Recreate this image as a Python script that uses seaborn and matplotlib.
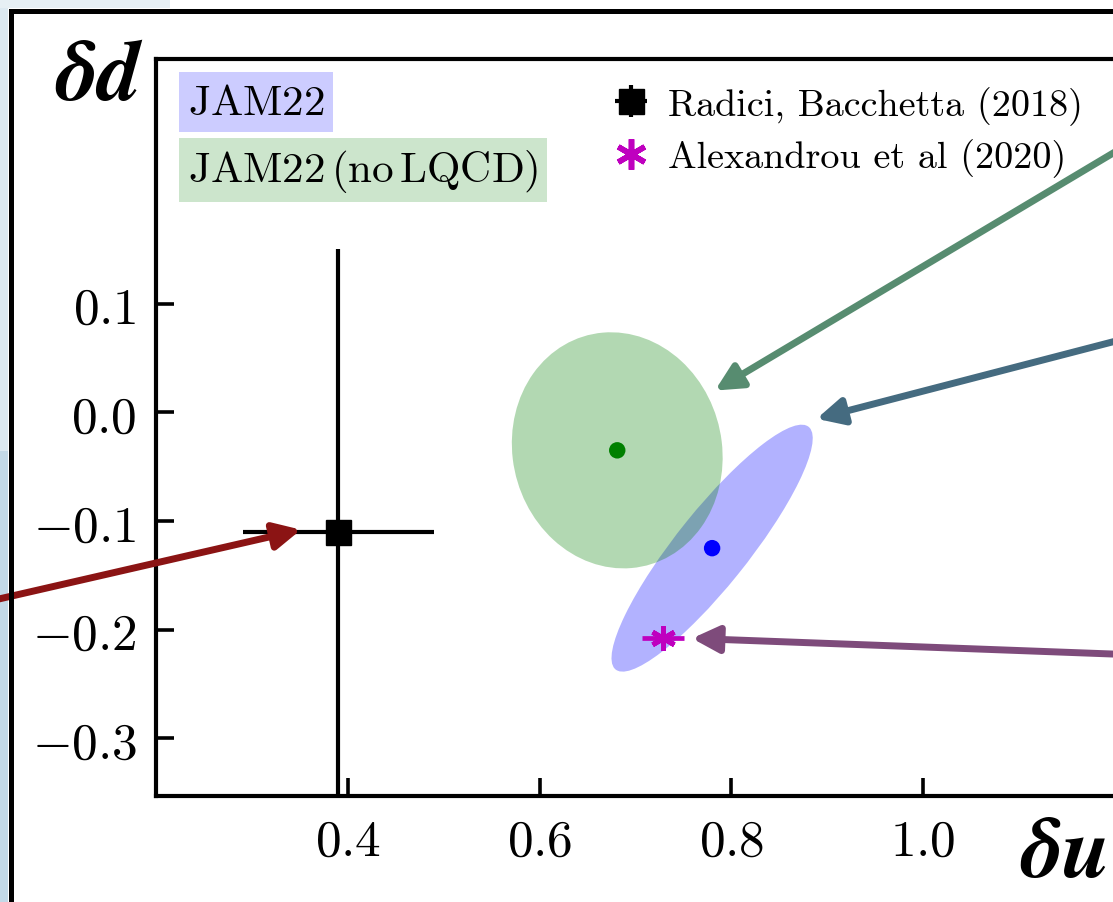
import numpy as np
import matplotlib
matplotlib.use('Agg')
import matplotlib.pyplot as plt
import seaborn as sns
from matplotlib.patches import Ellipse, Rectangle
from matplotlib.lines import Line2D
from matplotlib.legend_handler import HandlerErrorbar

# ---------------- data ----------------
jam_names = ['JAM22', 'JAM22 (no LQCD)']
jam_box_text = [r'$\mathrm{JAM22}$', r'$\mathrm{JAM22\,(no\,LQCD)}$']
jam_du = [0.780, 0.681]
jam_dd = [-0.125, -0.035]
jam_sig_du = [0.105, 0.110]
jam_sig_dd = [0.1136, 0.1086]
jam_rho = [0.89, -0.06]
jam_colors = ['b', 'g']

radici_label = 'Radici, Bacchetta (2018)'
radici_du, radici_dd = 0.390, -0.110
radici_du_err, radici_dd_err = 0.10, 0.26

alex_label = 'Alexandrou et al (2020)'
alex_du, alex_dd = 0.729, -0.2075
alex_du_err = 0.022

arrow_tip_du = [0.351, 0.783, 0.889, 0.759]
arrow_tip_dd = [-0.108, 0.020, -0.006, -0.208]
arrow_tail_du = [-0.005, 1.247, 1.247, 1.247]
arrow_tail_dd = [-0.180, 0.264, 0.076, -0.224]
arrow_colors = ['#8B1414', '#578C70', '#456B80', '#7E4B7B']

xticks = [0.4, 0.6, 0.8, 1.0]
xtick_labels = ['0.4', '0.6', '0.8', '1.0']
yticks = [-0.3, -0.2, -0.1, 0.0, 0.1]
ytick_labels = ['-0.3', '-0.2', '-0.1', '0.0', '0.1']

# ---------------- style ----------------
sns.set_style('ticks')
plt.rcParams['mathtext.fontset'] = 'cm'
plt.rcParams['text.color'] = 'black'
plt.rcParams['axes.labelcolor'] = 'black'
plt.rcParams['xtick.color'] = 'black'
plt.rcParams['ytick.color'] = 'black'

W, H = 1113, 903
fig = plt.figure(figsize=(W / 100, H / 100), dpi=100)
fig.patch.set_facecolor('white')

ax = fig.add_axes([156.3 / W, (H - 797) / H, 958.3 / W, 737 / H])
ax.set_xlim(0.2, 1.2)
ax.set_ylim(-0.353, 0.325)

for s in ax.spines.values():
    s.set_linewidth(3.0)
    s.set_color('black')

ax.set_xticks(xticks)
ax.set_xticklabels(['$' + t + '$' for t in xtick_labels])
ax.set_yticks(yticks)
ax.set_yticklabels(['$' + t + '$' for t in ytick_labels])
ax.tick_params(direction='in', length=13, width=2.6, labelsize=37, pad=14,
               color='black', labelcolor='black', top=False, right=False)

# ellipses
for x, y, sx, sy, r, c in zip(jam_du, jam_dd, jam_sig_du, jam_sig_dd, jam_rho, jam_colors):
    cov = np.array([[sx ** 2, r * sx * sy], [r * sx * sy, sy ** 2]])
    vals, vecs = np.linalg.eigh(cov)
    order = vals.argsort()[::-1]
    vals, vecs = vals[order], vecs[:, order]
    ang = np.degrees(np.arctan2(vecs[1, 0], vecs[0, 0]))
    ax.add_patch(Ellipse((x, y), 2 * np.sqrt(vals[0]), 2 * np.sqrt(vals[1]), angle=ang,
                         facecolor=c, alpha=0.3, edgecolor='none', zorder=1))

sns.scatterplot(x=jam_du, y=jam_dd, hue=jam_names, palette=jam_colors, s=140,
                edgecolor='none', legend=False, ax=ax, zorder=3)

# Radici
eb = ax.errorbar(radici_du, radici_dd, xerr=radici_du_err, yerr=radici_dd_err, fmt='s',
                 color='k', ms=18, elinewidth=3.0, capsize=0, zorder=4, label=radici_label)

# Alexandrou
ax.errorbar(alex_du, alex_dd, xerr=alex_du_err, fmt='none', ecolor='m', elinewidth=3.4,
            capsize=0, zorder=4)
ax.plot([alex_du], [alex_dd], linestyle='none', marker=(6, 2, 0), ms=18, mew=3.6,
        color='m', zorder=5)
star_proxy = Line2D([], [], linestyle='none', marker=(6, 2, 0), ms=22, mew=4.0, color='m',
                    label=alex_label)

leg = ax.legend(handles=[eb, star_proxy], labels=[radici_label, alex_label],
                handler_map={type(eb): HandlerErrorbar(xerr_size=0.42)},
                prop=dict(family='cmr10', size=27.5), handlelength=0.85, handletextpad=0.55,
                labelspacing=0.36, borderpad=0, borderaxespad=0, frameon=False,
                loc='upper left', bbox_to_anchor=(0.478, 0.9635))
for t in leg.get_texts():
    t.set_color('black')

# JAM22 label boxes
box_y = [0.9254, 0.8349]
for txt, c, yy in zip(jam_box_text, jam_colors, box_y):
    ax.text(0.0331, yy, txt, transform=ax.transAxes, fontsize=31, ha='left', va='baseline',
            color='black',
            bbox=dict(boxstyle='square,pad=0.2', facecolor=c, alpha=0.2, edgecolor='none'),
            zorder=6)

# arrows
for tx, ty, sx, sy, c in zip(arrow_tip_du, arrow_tip_dd, arrow_tail_du, arrow_tail_dd, arrow_colors):
    ax.annotate('', xy=(tx, ty), xytext=(sx, sy), xycoords='data', textcoords='data',
                annotation_clip=False,
                arrowprops=dict(arrowstyle='-|>,head_length=16,head_width=8', mutation_scale=1,
                                color=c, lw=5.0, shrinkA=0, shrinkB=0), zorder=7)

# axis labels
fig.text(55 / W, 1 - 100 / H, '\u03b4d', family='STIXGeneral', weight='bold', style='italic',
         fontsize=62, ha='left', va='baseline', color='black')
fig.text(1020 / W, 1 - 877 / H, '\u03b4u', family='STIXGeneral', weight='bold', style='italic',
         fontsize=62, ha='left', va='baseline', color='black')

# slide frame / background strips
fig.add_artist(Rectangle((0, 0.5), 8 / W, 0.5, transform=fig.transFigure, facecolor='#dce9f1',
                         edgecolor='none', zorder=-5))
fig.add_artist(Rectangle((0, 0), 8 / W, 0.5, transform=fig.transFigure, facecolor='#c3d9e7',
                         edgecolor='none', zorder=-5))
fig.add_artist(Rectangle((0, 1 - 9 / H), 170 / W, 9 / H, transform=fig.transFigure,
                         facecolor='#e6eff4', edgecolor='none', zorder=-5))
fig.add_artist(Line2D([10.5 / W, 10.5 / W, 1.0], [0.0, 1 - 12 / H, 1 - 12 / H],
                      transform=fig.transFigure, color='black', lw=3.6,
                      solid_joinstyle='miter'))

fig.savefig('out.png', dpi=100)
